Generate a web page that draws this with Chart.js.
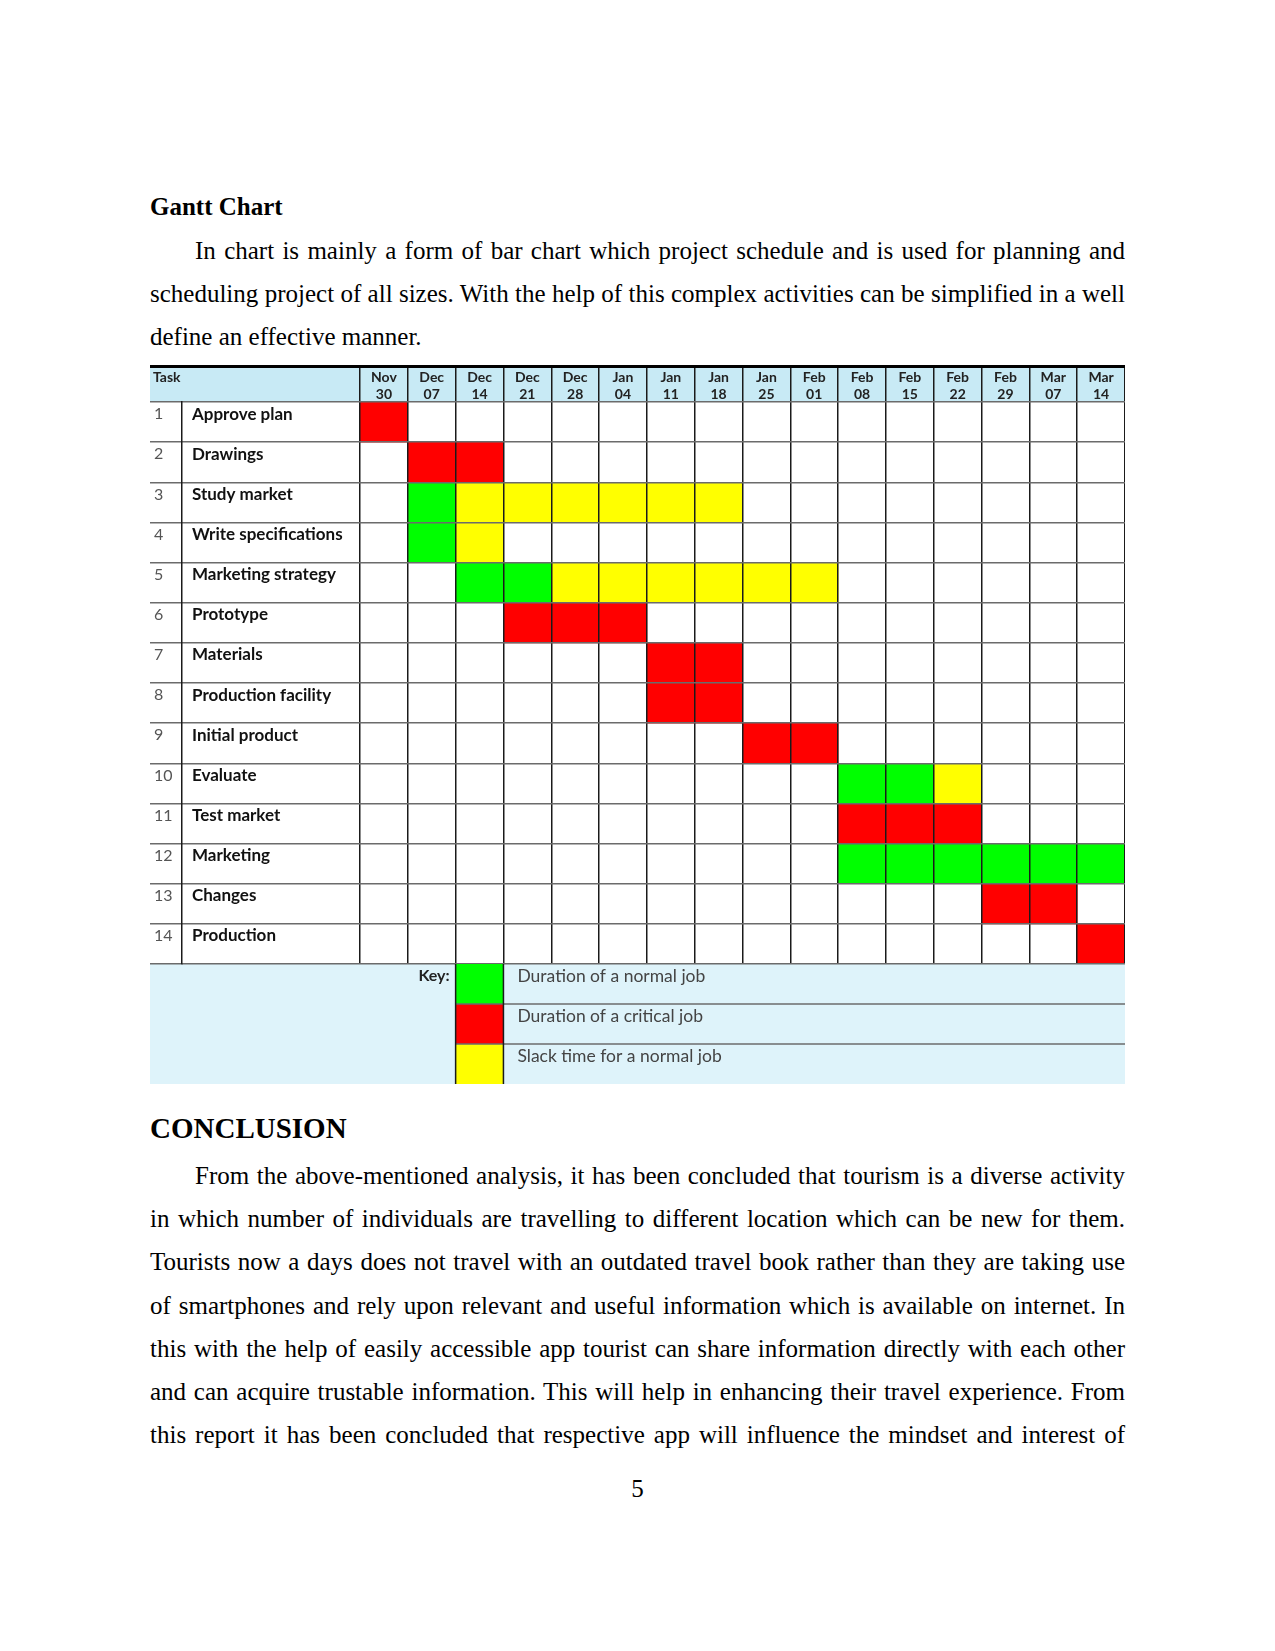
<!DOCTYPE html>
<html><head><meta charset="utf-8">
<script src="https://cdn.jsdelivr.net/npm/chart.js@4/dist/chart.umd.min.js"></script>
<style>
html,body{margin:0;padding:0;background:#fff;}
body{width:1275px;height:1651px;position:relative;overflow:hidden;font-family:"Liberation Serif","Times New Roman",serif;color:#000;}
.ln{position:absolute;left:150px;width:975px;height:30px;line-height:30px;font-size:25px;white-space:nowrap;}
.j{text-align:justify;text-align-last:justify;}
.ind{text-indent:45px;}
.h{font-weight:bold;}
#wrap{position:absolute;left:150px;top:362px;width:975px;height:722px;}
</style></head><body>
<div class="ln h" style="top:192px">Gantt Chart</div>
<div class="ln j ind" style="top:236px">In chart is mainly a form of bar chart which project schedule and is used for planning and</div>
<div class="ln j" style="top:279px">scheduling project of all sizes. With the help of this complex activities can be simplified in a well</div>
<div class="ln" style="top:322px">define an effective manner.</div>

<div id="wrap"><canvas id="c" width="975" height="722"></canvas></div>

<div class="ln h" style="top:1113px;font-size:29px">CONCLUSION</div>
<div class="ln j ind" style="top:1161px">From the above-mentioned analysis, it has been concluded that tourism is a diverse activity</div>
<div class="ln j" style="top:1204px">in which number of individuals are travelling to different location which can be new for them.</div>
<div class="ln j" style="top:1247px">Tourists now a days does not travel with an outdated travel book rather than they are taking use</div>
<div class="ln j" style="top:1291px">of smartphones and rely upon relevant and useful information which is available on internet. In</div>
<div class="ln j" style="top:1334px">this with the help of easily accessible app tourist can share information directly with each other</div>
<div class="ln j" style="top:1377px">and can acquire trustable information. This will help in enhancing their travel experience. From</div>
<div class="ln j" style="top:1420px">this report it has been concluded that respective app will influence the mindset and interest of</div>
<div class="ln" style="top:1474px;text-align:center">5</div>

<script>
const weeks = ['Nov 30','Dec 07','Dec 14','Dec 21','Dec 28','Jan 04','Jan 11','Jan 18','Jan 25','Feb 01','Feb 08','Feb 15','Feb 22','Feb 29','Mar 07','Mar 14'];
const taskNumbers = ['1','2','3','4','5','6','7','8','9','10','11','12','13','14'];
const tasks = ['Approve plan','Drawings','Study market','Write specifications','Marketing strategy','Prototype','Materials','Production facility','Initial product','Evaluate','Test market','Marketing','Changes','Production'];
// [start week index, end week index) for each task
const normalJob   = [null, null, [1,2], [1,2], [2,4], null, null, null, null, [10,12], null, [10,16], null, null];
const criticalJob = [[0,1], [1,3], null, null, null, [3,6], [6,8], [6,8], [8,10], null, [10,13], null, [13,15], [15,16]];
const slackTime   = [null, null, [2,8], [2,3], [4,10], null, null, null, null, [12,13], null, null, null, null];
const keyLabels = ['Duration of a normal job','Duration of a critical job','Slack time for a normal job'];
const keyColors = ['#00ff00','#ff0000','#ffff00'];

const mk = (label, data, color) => ({label, data, backgroundColor: color, borderWidth: 0, borderSkipped: false, grouped: false, barPercentage: 1, categoryPercentage: 1});

const decor = {
  id: 'decor',
  afterLayout(chart) {
    chart.scales.y.left += 10;
    chart.scales.y2.left += 4;
  },
  beforeDraw(chart) {
    const {ctx, chartArea: a} = chart;
    ctx.save();
    ctx.fillStyle = '#c8eaf5';
    ctx.fillRect(0, 6, chart.width, a.top - 6);
    ctx.fillStyle = '#000';
    ctx.fillRect(0, 3, chart.width, 3);
    ctx.fillStyle = '#def3fa';
    ctx.fillRect(0, a.bottom, chart.width, chart.height - a.bottom);
    ctx.restore();
  },
  afterDraw(chart) {
    const {ctx, chartArea: a, scales: {x}} = chart;
    ctx.save();
    ctx.textBaseline = 'middle';
    ctx.font = 'bold 14px Lato';
    ctx.fillStyle = '#222';
    ctx.textAlign = 'left';
    ctx.fillText('Task', 3, 15);
    const rowH = (chart.height - a.bottom) / keyLabels.length;
    const x0 = x.getPixelForValue(2), x1 = x.getPixelForValue(3);
    keyLabels.forEach((lab, i) => {
      const top = a.bottom + i * rowH;
      ctx.fillStyle = keyColors[i];
      ctx.fillRect(x0, top, x1 - x0, rowH);
      ctx.fillStyle = '#444';
      ctx.font = '17.5px Lato';
      ctx.textAlign = 'left';
      ctx.fillText(lab, x1 + 14, top + 12);
      if (i > 0) {
        ctx.strokeStyle = '#6b6b6b';
        ctx.lineWidth = 1.5;
        ctx.beginPath(); ctx.moveTo(x0, top); ctx.lineTo(chart.width, top); ctx.stroke();
      }
    });
    ctx.strokeStyle = '#1a1a1a';
    ctx.lineWidth = 1.5;
    ctx.beginPath();
    ctx.moveTo(x0, a.bottom); ctx.lineTo(x0, chart.height);
    ctx.moveTo(x1, a.bottom); ctx.lineTo(x1, chart.height);
    ctx.stroke();
    ctx.font = 'bold 16px Lato';
    ctx.fillStyle = '#222';
    ctx.textAlign = 'right';
    ctx.fillText('Key:', x0 - 6, a.bottom + 12);
    ctx.restore();
  }
};

new Chart(document.getElementById('c'), {
  type: 'bar',
  data: {
    labels: tasks,
    datasets: [
      mk('Duration of a normal job', normalJob, keyColors[0]),
      mk('Duration of a critical job', criticalJob, keyColors[1]),
      mk('Slack time for a normal job', slackTime, keyColors[2])
    ]
  },
  options: {
    indexAxis: 'y',
    responsive: false,
    animation: false,
    devicePixelRatio: 1,
    layout: {padding: {top: 6, bottom: 120, left: 0, right: 0}},
    plugins: {legend: {display: false}, tooltip: {enabled: false}},
    scales: {
      x: {type: 'linear', min: 0, max: 16, display: false,
          afterFit: s => { s.paddingLeft = 0; s.paddingRight = 0; }},
      xTop: {
        type: 'category', labels: weeks, position: 'top', offset: true,
        grid: {offset: true, z: 1, lineWidth: 1.5, tickLength: 34,
               color: c => c.index >= weeks.length ? 'rgba(0,0,0,0)' : '#1a1a1a'},
        border: {display: false},
        ticks: {autoSkip: false, maxRotation: 0, minRotation: 0, padding: -35.3,
                font: {family: 'Lato', weight: 'bold', size: 14, lineHeight: 1.25}, color: '#222',
                callback: (v, i) => weeks[i].split(' ')},
        afterFit: s => { s.height = 34; s.paddingLeft = 0; s.paddingRight = 0; }
      },
      y: {
        type: 'category', position: 'left', offset: true, weight: 0,
        grid: {offset: true, z: 1, color: '#6b6b6b', lineWidth: 1.5, tickLength: 178},
        border: {display: false},
        ticks: {crossAlign: 'far', labelOffset: -8, autoSkip: false, padding: 0,
                font: {family: 'Lato', weight: 'bold', size: 17}, color: '#111'},
        afterFit: s => { s.width = 178; s.paddingTop = 0; s.paddingBottom = 0; }
      },
      y2: {
        type: 'category', labels: taskNumbers, position: 'left', offset: true, weight: 1,
        grid: {offset: true, z: 1, color: '#6b6b6b', lineWidth: 1.5, tickLength: 32, drawOnChartArea: false},
        border: {display: true, color: '#1a1a1a', width: 1.5, z: 1},
        ticks: {crossAlign: 'far', labelOffset: -8, autoSkip: false, padding: 0,
                font: {family: 'Lato', size: 16}, color: '#555'},
        afterFit: s => { s.width = 32; s.paddingTop = 0; s.paddingBottom = 0; }
      }
    }
  },
  plugins: [decor]
});
</script>
</body></html>
